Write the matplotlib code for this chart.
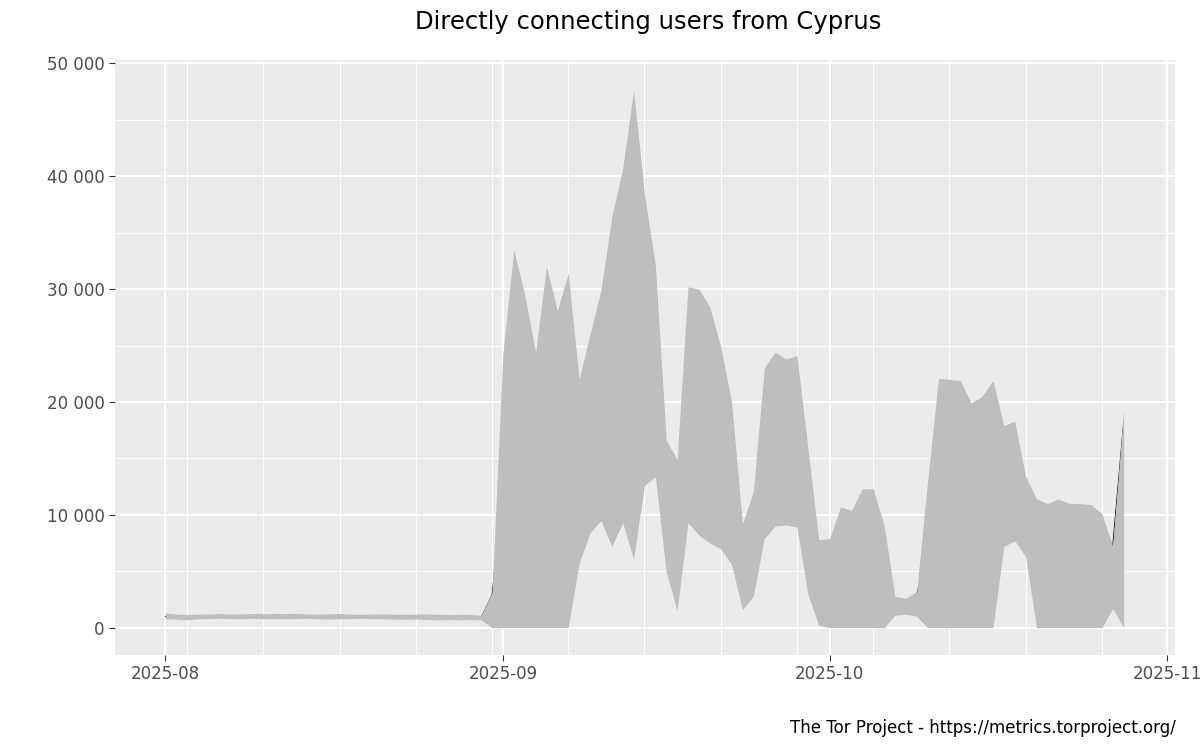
import matplotlib
matplotlib.use("Agg")
import matplotlib.pyplot as plt
import matplotlib.dates as mdates
import matplotlib.ticker as mticker
import numpy as np
import pandas as pd

dates = pd.date_range("2025-08-01", "2025-10-28", freq="D")

lower = [800, 750, 700, 780, 800, 820, 800, 780, 820, 800,
         800, 780, 800, 820, 790, 760, 780, 800, 820, 790,
         780, 760, 740, 760, 720, 700, 720, 700, 720, 700,
         0, 0, 0, 0, 0, 0, 0, 0, 5700, 8400,
         9500, 7200, 9300, 6100, 12600, 13400, 4900, 1500, 9300, 8200,
         7500, 7000, 5600, 1600, 2800, 7900, 9000, 9100, 8900, 3000,
         200, 0, 0, 0, 0, 0, 0, 1100, 1200, 1000,
         0, 0, 0, 0, 0, 0, 0, 7200, 7700, 6300,
         0, 0, 0, 0, 0, 0, 0, 1700, 0]

upper = [1300, 1200, 1150, 1200, 1200, 1250, 1200, 1220, 1250, 1230,
         1250, 1240, 1250, 1220, 1200, 1230, 1250, 1200, 1180, 1200,
         1220, 1200, 1180, 1200, 1220, 1180, 1150, 1180, 1160, 1100,
         3100, 24300, 33500, 29500, 24400, 32000, 28100, 31400, 22000, 26000,
         29900, 36400, 40700, 47600, 38400, 32100, 16600, 14900, 30200, 30000,
         28400, 24900, 20000, 9200, 12100, 23000, 24400, 23800, 24100, 16000,
         7800, 7900, 10700, 10400, 12300, 12300, 9100, 2800, 2600, 3200,
         13000, 22100, 22000, 21900, 19900, 20500, 21900, 17900, 18300, 13400,
         11400, 11000, 11400, 11000, 11000, 10900, 10100, 7200, 19300]

users = [1000, 950, 900, 980, 1000, 1030, 1000, 1000, 1030, 1010,
         1020, 1010, 1020, 1020, 990, 990, 1010, 1000, 1000, 990,
         1000, 980, 960, 980, 970, 940, 930, 940, 940, 900,
         2900, 12000, 17000, 15000, 12000, 16000, 14000, 15700, 13800, 17200,
         19700, 21800, 25000, 26800, 25500, 22700, 10700, 8200, 19700, 19100,
         17900, 15900, 12800, 5400, 7400, 15400, 16700, 16400, 16500, 9500,
         4000, 4000, 5300, 5200, 6100, 6100, 4500, 2000, 1900, 3000,
         6500, 11000, 11000, 10900, 9900, 10200, 10900, 12500, 13000, 9800,
         5700, 5500, 5700, 5500, 5500, 5400, 5000, 7300, 18200]

fig = plt.figure(figsize=(12, 7.5), dpi=100)
ax = fig.add_axes([0.096, 0.127, 0.883, 0.793])
ax.set_facecolor("#EBEBEB")

ax.plot(dates, users, color="black", linewidth=0.6, zorder=2)
ax.fill_between(dates, lower, upper, color="#BEBEBE", linewidth=0, zorder=3)

ax.set_xlim(pd.Timestamp("2025-08-01") - pd.Timedelta(days=4.6),
            pd.Timestamp("2025-08-01") + pd.Timedelta(days=92.7))
ax.set_ylim(-2400, 50300)

ax.xaxis.set_major_locator(mdates.MonthLocator())
ax.xaxis.set_major_formatter(mdates.DateFormatter("%Y-%m"))
ax.xaxis.set_minor_locator(mdates.WeekdayLocator(byweekday=mdates.SU))
ax.yaxis.set_major_locator(mticker.MultipleLocator(10000))
ax.yaxis.set_minor_locator(mticker.MultipleLocator(5000))
ax.yaxis.set_major_formatter(mticker.FuncFormatter(lambda v, p: f"{int(v):,}".replace(",", " ")))

ax.grid(which="major", color="white", linewidth=1.4, zorder=1)
ax.grid(which="minor", color="white", linewidth=0.7, zorder=1)
ax.set_axisbelow(True)
for s in ax.spines.values():
    s.set_visible(False)
ax.tick_params(which="major", length=4, color="#333333", labelsize=12, labelcolor="#4D4D4D")
ax.tick_params(which="minor", length=0)

fig.text(0.54, 0.97, "Directly connecting users from Cyprus", ha="center", va="center", fontsize=17.5)
fig.text(0.98, 0.029, "The Tor Project - https://metrics.torproject.org/", ha="right", va="center", fontsize=12)

fig.savefig("out.png", dpi=100)
